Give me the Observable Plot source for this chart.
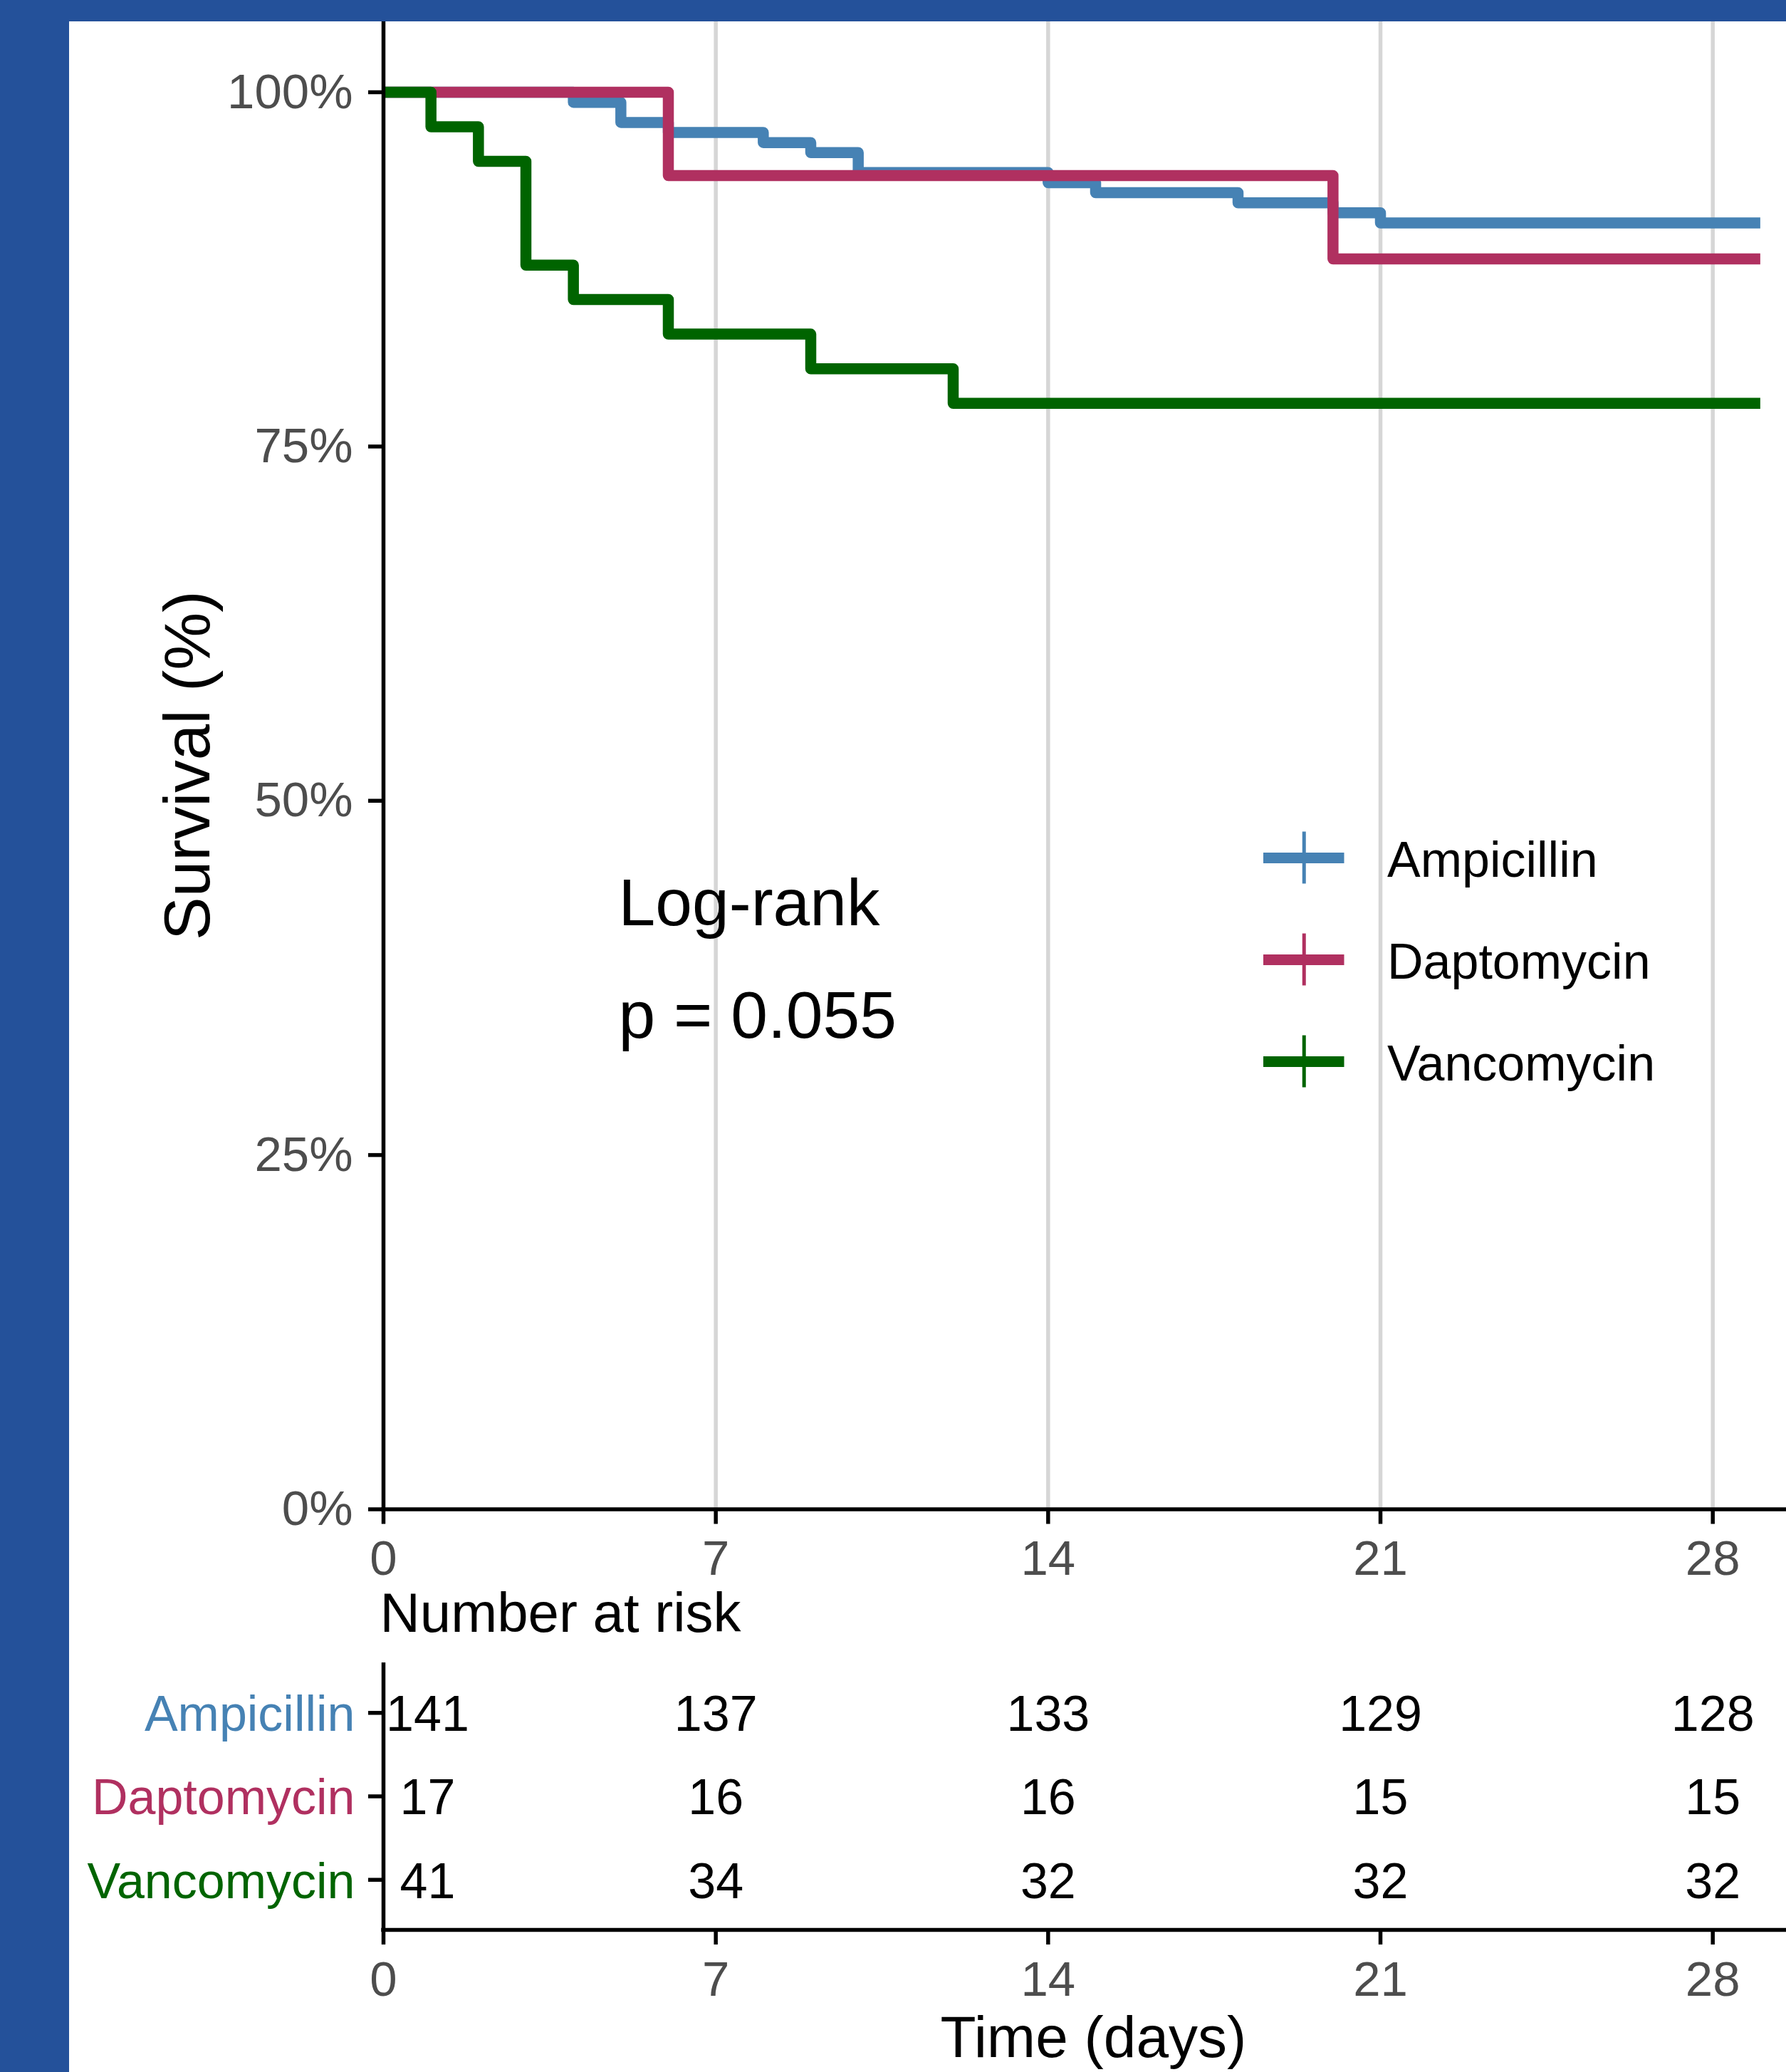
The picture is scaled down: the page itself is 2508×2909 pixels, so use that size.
<!DOCTYPE html>
<html><head><meta charset="utf-8">
<script src="https://cdn.jsdelivr.net/npm/d3@7"></script>
<script src="https://cdn.jsdelivr.net/npm/@observablehq/plot@0.6"></script>
<style>
html,body{margin:0;padding:0;width:2508px;height:2909px;overflow:hidden;background:#24519A;}
#panel{position:absolute;left:97px;top:30px;width:2411px;height:2879px;background:#fff;}
.layer{position:absolute;}
.layer svg{overflow:visible;max-width:none;}
</style></head><body>
<div id="panel"></div>
<div id="main" class="layer" style="left:0;top:30px;width:2508px"></div>
<div id="risk" class="layer" style="left:0;top:2200px;width:2508px"></div>
<div id="legend" class="layer" style="left:1700px;top:1120px;width:800px"></div>
<script>
// ---- data ----
const groups = ["Ampicillin", "Daptomycin", "Vancomycin"];
const colors = ["#4682B4", "#B03060", "#006400"];
// Kaplan-Meier steps: time (days) and survival (%)
const ampTime = [0, 4, 5, 6, 8, 9, 10, 14, 15, 18, 20, 21, 29];
const ampSurv = [100, 99.29, 97.87, 97.16, 96.45, 95.74, 94.33, 93.62, 92.91, 92.20, 91.49, 90.78, 90.78];
const dapTime = [0, 6, 20, 29];
const dapSurv = [100, 94.12, 88.24, 88.24];
const vanTime = [0, 1, 2, 3, 4, 6, 9, 12, 29];
const vanSurv = [100, 97.56, 95.12, 87.80, 85.37, 82.93, 80.49, 78.05, 78.05];
const xTicks = [0, 7, 14, 21, 28];
const yTicks = [0, 25, 50, 75, 100];
// number at risk
const riskTimes = [0, 7, 14, 21, 28];
const ampRisk = [141, 137, 133, 129, 128];
const dapRisk = [17, 16, 16, 15, 15];
const vanRisk = [41, 34, 32, 32, 32];
const pvalLines = ["Log-rank", "p = 0.055"];
const pvalPos = {time: 4.95, surv: 33.26};

// ---- tables built from the arrays ----
const times = [ampTime, dapTime, vanTime];
const survs = [ampSurv, dapSurv, vanSurv];
const risks = [ampRisk, dapRisk, vanRisk];
const survData = groups.flatMap((g, gi) => times[gi].map((t, i) => ({group: g, time: t, surv: survs[gi][i]})));
const riskData = groups.flatMap((g, gi) => riskTimes.map((t, i) => ({group: g, row: gi + 1, time: t, n: risks[gi][i]})));

const font = "'Liberation Sans', Arial, Helvetica, sans-serif";
const style = {fontFamily: font, fontSize: "69px", background: "transparent", overflow: "visible", color: "black"};
const axisW = 5.5;
const tickGrey = "#4D4D4D";

const main = Plot.plot({
  width: 2508, height: 2200,
  marginLeft: 538, marginRight: 0, marginTop: 0, marginBottom: 2200 - 2088.5,
  style,
  x: {domain: [0, 28], range: [538, 2404.7]},
  y: {domain: [0, 100], range: [2088.5, 99]},
  color: {domain: groups, range: colors},
  marks: [
    Plot.ruleX(xTicks.slice(1), {stroke: "#D6D6D6", strokeWidth: 5.5}),
    Plot.line(survData, {x: "time", y: "surv", z: "group", stroke: "group", curve: "step-after",
      strokeWidth: 15.5, strokeLinecap: "butt", strokeLinejoin: "round"}),
    Plot.ruleX([0], {stroke: "black", strokeWidth: axisW}),
    Plot.ruleY([0], {stroke: "black", strokeWidth: axisW, strokeLinecap: "square"}),
    Plot.axisX({ticks: xTicks, tickSize: 21, tickPadding: 22, stroke: "black", strokeWidth: axisW,
      fill: tickGrey, fontSize: 69, label: null}),
    Plot.axisY({ticks: yTicks, tickFormat: d => d + "%", tickSize: 21, tickPadding: 22, stroke: "black",
      strokeWidth: axisW, fill: tickGrey, fontSize: 69, label: null}),
    Plot.text(["Survival (%)"], {text: d => d, frameAnchor: "left", textAnchor: "middle", rotate: -90, dx: -274,
      fontSize: 91, fill: "black"}),
    Plot.text([pvalLines.join("\n")], {text: d => d, x: pvalPos.time, y: pvalPos.surv, textAnchor: "start",
      lineAnchor: "bottom", lineHeight: 1.706, fontSize: 93, fill: "black"})
  ]
});
document.getElementById("main").append(main);

const risk = Plot.plot({
  width: 2508, height: 709,
  marginLeft: 538, marginRight: 0, marginTop: 134, marginBottom: 200,
  style,
  x: {domain: [0, 28], range: [538, 2404.7]},
  y: {domain: [0.4, 3.6], range: [134, 509]},
  color: {domain: groups, range: colors},
  marks: [
    Plot.ruleX([0], {stroke: "black", strokeWidth: axisW}),
    Plot.ruleY([3.6], {stroke: "black", strokeWidth: axisW, strokeLinecap: "square"}),
    Plot.axisX({ticks: xTicks, tickSize: 21, tickPadding: 22, stroke: "black", strokeWidth: axisW,
      fill: tickGrey, fontSize: 69, label: null}),
    Plot.axisY({ticks: [1, 2, 3], tickFormat: () => "", tickSize: 21, stroke: "black", strokeWidth: axisW, label: null}),
    Plot.text(groups, {x: 0, y: (d, i) => i + 1, text: d => d, fill: d => d, textAnchor: "end", dx: -40, dy: 3, fontSize: 70}),
    Plot.text(riskData.filter(d => d.time === 0), {x: "time", y: "row", text: "n", dx: 62, dy: 3, fontSize: 70, fill: "black"}),
    Plot.text(riskData.filter(d => d.time > 0), {x: "time", y: "row", text: "n", dy: 3, fontSize: 70, fill: "black"}),
    Plot.text(["Number at risk"], {text: d => d, frameAnchor: "top-left", textAnchor: "start", lineAnchor: "bottom",
      dx: -5, dy: -44, fontSize: 78, fill: "black"}),
    Plot.text(["Time (days)"], {text: d => d, frameAnchor: "bottom", textAnchor: "middle", lineAnchor: "bottom",
      dx: 12, dy: 178, fontSize: 82, fill: "black"})
  ]
});
document.getElementById("risk").append(risk);

const legend = Plot.plot({
  width: 800, height: 450, margin: 0,
  style,
  x: {domain: [0, 1], range: [74, 187.5], axis: null},
  y: {type: "point", domain: groups, range: [84, 370], padding: 0, axis: null},
  color: {domain: groups, range: colors},
  marks: [
    Plot.ruleY(groups, {y: d => d, x1: 0, x2: 1, stroke: d => d, strokeWidth: 15}),
    Plot.ruleX(groups, {x: 0.5, y1: d => d, y2: d => d, insetTop: -36.5, insetBottom: -36.5, stroke: d => d, strokeWidth: 5}),
    Plot.text(groups, {x: 1, y: d => d, text: d => d, dx: 60, dy: 4, textAnchor: "start", fontSize: 70, fill: "black"})
  ]
});
document.getElementById("legend").append(legend);
</script>
</body></html>
